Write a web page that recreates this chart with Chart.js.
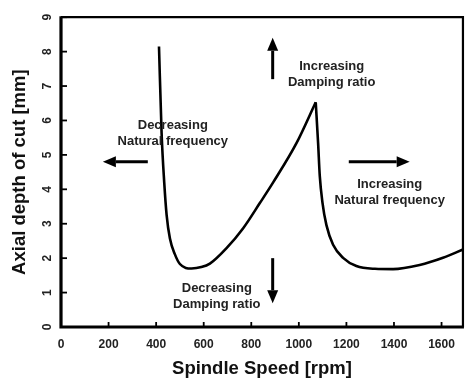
<!DOCTYPE html>
<html>
<head>
<meta charset="utf-8">
<script src="https://cdn.jsdelivr.net/npm/chart.js@4.4.1/dist/chart.umd.min.js"></script>
<style>
  html, body { margin: 0; padding: 0; background: #fff; }
  #wrap { width: 465px; height: 381px; }
</style>
</head>
<body>
<div id="wrap"><canvas id="lobeChart" width="465" height="381"></canvas></div>
<script>
// stability lobe: left flank up to the cusp, then the right flank
const leftSpeed = [412, 423, 434, 444, 458, 479, 500, 549, 590, 626, 696, 766, 836, 892, 990, 1071];
const leftDepth = [8.15, 5.63, 4.2, 3.26, 2.57, 2.11, 1.83, 1.70, 1.74, 1.84, 2.29, 2.87, 3.6, 4.2, 5.34, 6.53];
const rightSpeed = [1071, 1081, 1088, 1099, 1116, 1144, 1186, 1242, 1320, 1396, 1508, 1606, 1690];
const rightDepth = [6.53, 5.34, 4.39, 3.63, 2.96, 2.39, 2.01, 1.77, 1.69, 1.68, 1.80, 2.01, 2.25];

const speedTicks = [0, 200, 400, 600, 800, 1000, 1200, 1400, 1600];
const depthTicks = [0, 1, 2, 3, 4, 5, 6, 7, 8, 9];

// annotations in data units: text centre + first line, arrow from -> to
const notes = [
  { text: ['Decreasing', 'Natural frequency'], at: [470, 5.86], from: [365, 4.8], to: [176, 4.8] },
  { text: ['Increasing', 'Damping ratio'], at: [1138, 7.57], from: [890, 7.2], to: [890, 8.4] },
  { text: ['Increasing', 'Natural frequency'], at: [1382, 4.14], from: [1210, 4.8], to: [1466, 4.8] },
  { text: ['Decreasing', 'Damping ratio'], at: [655, 1.11], from: [890, 2.0], to: [890, 0.69] }
];

const FONT = '"Liberation Sans", Arial, Helvetica, sans-serif';

function toPoints(xs, ys) {
  return xs.map((x, i) => ({ x: x, y: ys[i] }));
}

function drawArrow(ctx, x1, y1, x2, y2) {
  const ang = Math.atan2(y2 - y1, x2 - x1);
  const head = 13, half = 5.5;
  const bx = x2 - head * Math.cos(ang), by = y2 - head * Math.sin(ang);
  ctx.beginPath();
  ctx.moveTo(x1, y1);
  ctx.lineTo(bx, by);
  ctx.lineWidth = 3;
  ctx.strokeStyle = '#000';
  ctx.stroke();
  ctx.beginPath();
  ctx.moveTo(x2, y2);
  ctx.lineTo(bx + half * Math.sin(ang), by - half * Math.cos(ang));
  ctx.lineTo(bx - half * Math.sin(ang), by + half * Math.cos(ang));
  ctx.closePath();
  ctx.fillStyle = '#000';
  ctx.fill();
}

const framePlugin = {
  id: 'frame',
  afterDatasetsDraw(chart) {
    const { ctx, chartArea: a, scales } = chart;
    const xs = scales.x, ys = scales.y;
    ctx.save();

    // inward tick marks
    ctx.strokeStyle = '#000';
    ctx.lineWidth = 1.8;
    speedTicks.forEach(v => {
      const px = xs.getPixelForValue(v);
      ctx.beginPath();
      ctx.moveTo(px, a.bottom);
      ctx.lineTo(px, a.bottom - 5);
      ctx.stroke();
    });
    depthTicks.forEach(v => {
      const py = ys.getPixelForValue(v);
      ctx.beginPath();
      ctx.moveTo(a.left, py);
      ctx.lineTo(a.left + 6, py);
      ctx.stroke();
    });

    // box: heavy left/bottom, lighter top/right
    ctx.lineWidth = 2.2;
    ctx.beginPath();
    ctx.moveTo(a.left, a.top);
    ctx.lineTo(a.right, a.top);
    ctx.lineTo(a.right, a.bottom);
    ctx.stroke();
    ctx.lineWidth = 3.2;
    ctx.beginPath();
    ctx.moveTo(a.left, a.top - 1);
    ctx.lineTo(a.left, a.bottom);
    ctx.lineTo(a.right + 1, a.bottom);
    ctx.stroke();

    // labels and arrows
    ctx.font = 'bold 13px ' + FONT;
    ctx.textAlign = 'center';
    ctx.textBaseline = 'middle';
    notes.forEach(n => {
      const cx = xs.getPixelForValue(n.at[0]);
      const cy = ys.getPixelForValue(n.at[1]);
      ctx.fillStyle = '#222';
      n.text.forEach((t, i) => ctx.fillText(t, cx, cy + i * 16));
      drawArrow(ctx,
        xs.getPixelForValue(n.from[0]), ys.getPixelForValue(n.from[1]),
        xs.getPixelForValue(n.to[0]), ys.getPixelForValue(n.to[1]));
    });
    ctx.restore();
  }
};

const lineStyle = {
  borderColor: '#000',
  borderWidth: 2.6,
  pointRadius: 0,
  fill: false,
  cubicInterpolationMode: 'monotone'
};

new Chart(document.getElementById('lobeChart').getContext('2d'), {
  type: 'line',
  data: {
    datasets: [
      Object.assign({ label: 'left flank', data: toPoints(leftSpeed, leftDepth) }, lineStyle),
      Object.assign({ label: 'right flank', data: toPoints(rightSpeed, rightDepth) }, lineStyle)
    ]
  },
  options: {
    responsive: false,
    animation: false,
    layout: { padding: { left: 0, right: 2, top: 12, bottom: 0 } },
    plugins: { legend: { display: false }, tooltip: { enabled: false } },
    scales: {
      x: {
        type: 'linear',
        min: 0,
        max: 1690,
        afterBuildTicks: s => { s.ticks = speedTicks.map(v => ({ value: v })); },
        afterFit: s => { s.height = 54; },
        grid: { display: false, drawTicks: false },
        border: { display: false },
        ticks: {
          autoSkip: false, maxRotation: 0, padding: 10,
          callback: v => String(v),
          color: '#222', font: { family: FONT, size: 12, weight: 'bold' }
        },
        title: {
          display: true, text: 'Spindle Speed [rpm]', color: '#111',
          font: { family: FONT, size: 18.5, weight: 'bold' }, padding: { top: 0, bottom: 1 }
        }
      },
      y: {
        min: 0,
        max: 9,
        afterBuildTicks: s => { s.ticks = depthTicks.map(v => ({ value: v })); },
        afterFit: s => { s.width = 61; },
        grid: { display: false, drawTicks: false },
        border: { display: false },
        ticks: {
          autoSkip: false, minRotation: 90, maxRotation: 90, crossAlign: 'center', padding: 10,
          callback: v => String(v),
          color: '#222', font: { family: FONT, size: 12, weight: 'bold' }
        },
        title: {
          display: true, text: 'Axial depth of cut [mm]', color: '#111',
          font: { family: FONT, size: 18.5, weight: 'bold' }, padding: { top: 9, bottom: 0 }
        }
      }
    }
  },
  plugins: [framePlugin]
});
</script>
</body>
</html>
